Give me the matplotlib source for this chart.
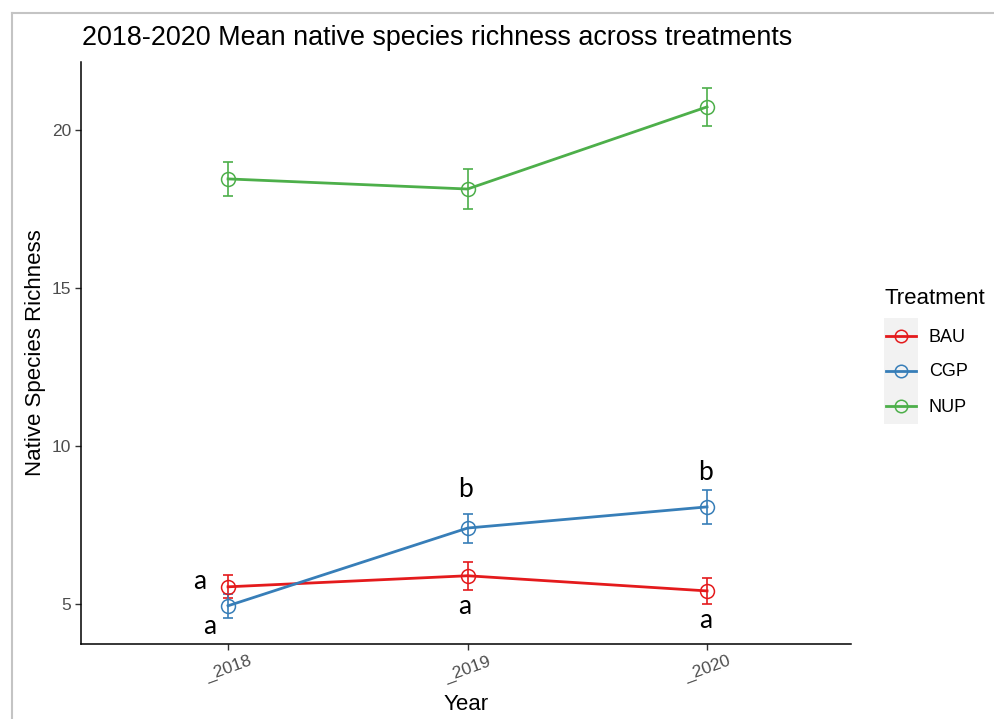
import numpy as np
import matplotlib
matplotlib.use('Agg')
from matplotlib import pyplot as plt
from matplotlib.lines import Line2D

plt.rcParams['font.family'] = ['Liberation Sans', 'DejaVu Sans']

years = ['_2018', '_2019', '_2020']
treatments = ['BAU', 'CGP', 'NUP']
colors = ['#E41A1C', '#377EB8', '#4DAF4A']

bau_mean = [5.54, 5.89, 5.41]
bau_se = [0.36, 0.45, 0.40]
cgp_mean = [4.94, 7.40, 8.07]
cgp_se = [0.38, 0.46, 0.54]
nup_mean = [18.45, 18.13, 20.73]
nup_se = [0.55, 0.62, 0.60]

# significance letters: (x position, y position, letter)
letter_x = [0.88, 0.925, 1.99, 1.99, 2.995, 2.995]
letter_y = [5.70, 4.27, 8.61, 4.91, 9.15, 4.46]
letters = ['a', 'a', 'b', 'a', 'b', 'a']

means = [bau_mean, cgp_mean, nup_mean]
ses = [bau_se, cgp_se, nup_se]

fig = plt.figure(figsize=(9.95, 7.19), dpi=100)
ax = fig.add_axes([81 / 995, 1 - 644 / 719, 770 / 995, 582 / 719])

x = np.arange(1, len(years) + 1)
for m, s, c in zip(means, ses, colors):
    ax.errorbar(x, m, yerr=s, color=c, lw=0, elinewidth=1.2, capsize=3.5,
                capthick=1.2, zorder=2)
    ax.plot(x, m, color=c, lw=2.0, zorder=3)
    ax.plot(x, m, 'o', ms=10, mfc='none', mec=c, mew=1.1, zorder=4)

for lx, ly, t in zip(letter_x, letter_y, letters):
    ax.text(lx, ly, t, ha='center', va='center', fontsize=19,
            family=['Lato', 'DejaVu Sans'], color='black')

ax.set_xlim(0.386, 3.601)
ax.set_ylim(3.73, 22.15)
ax.set_xticks(x)
ax.set_xticklabels(years, rotation=20, ha='center', color='#4D4D4D', fontsize=12.5)
ax.set_yticks([5, 10, 15, 20])
ax.set_yticklabels(['5', '10', '15', '20'], color='#4D4D4D', fontsize=12.5)
ax.tick_params(direction='out', length=4, width=1, color='#333333', pad=3)
for side in ['top', 'right']:
    ax.spines[side].set_visible(False)
for side in ['left', 'bottom']:
    ax.spines[side].set_linewidth(1.1)
    ax.spines[side].set_color('black')

ax.set_xlabel('Year', fontsize=16, labelpad=7)
ax.set_ylabel('Native Species Richness', fontsize=16, labelpad=4)

fig.text(82 / 995, 1 - 38 / 719, '2018-2020 Mean native species richness across treatments',
         fontsize=19.4, ha='left', va='center')

# legend drawn by hand: grey key panel plus labels
fig.text(885 / 995, 1 - 298 / 719, 'Treatment', fontsize=16, ha='left', va='center')
kax = fig.add_axes([884 / 995, 1 - 424 / 719, 34 / 995, 106 / 719])
kax.set_facecolor('#F2F2F2')
kax.set_xlim(0, 1)
kax.set_ylim(0, 3)
kax.set_xticks([])
kax.set_yticks([])
for sp in kax.spines.values():
    sp.set_visible(False)
for i, (name, c) in enumerate(zip(treatments, colors)):
    ky = 2.5 - i
    kax.plot([0.05, 0.95], [ky, ky], color=c, lw=2.0)
    kax.plot([0.5], [ky], 'o', ms=9, mfc='none', mec=c, mew=1.1)
    fig.text(929 / 995, 1 - (337 + 35 * i) / 719, name, fontsize=13,
             ha='left', va='center')

# thin grey frame around the plot
fig.add_artist(Line2D([12 / 995, 1], [1 - 13 / 719, 1 - 13 / 719],
                      color='#C4C4C4', lw=1.5, transform=fig.transFigure))
fig.add_artist(Line2D([12 / 995, 12 / 995], [0, 1 - 13 / 719],
                      color='#C4C4C4', lw=1.5, transform=fig.transFigure))

fig.savefig('out.png', dpi=100)
